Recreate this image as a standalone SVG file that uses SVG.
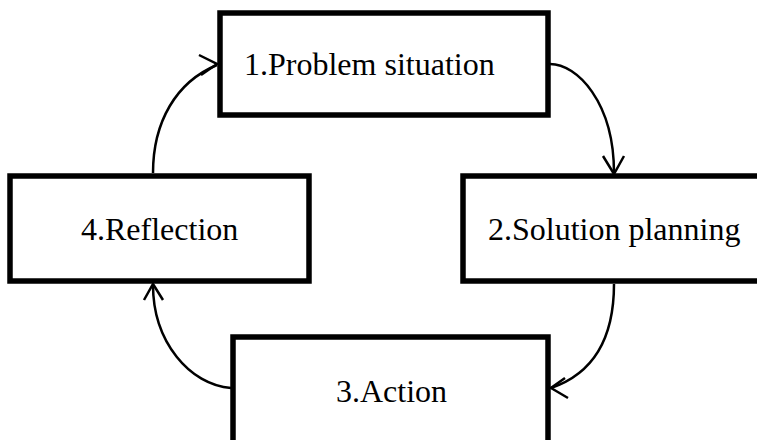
<svg xmlns="http://www.w3.org/2000/svg" width="757" height="440" viewBox="0 0 757 440">
  <style>
    .box { fill: #ffffff; stroke: #000000; stroke-width: 5.5; }
    .lbl { font-family: "Liberation Serif", "Times New Roman", serif; font-size: 32px; fill: #000000; }
    .conn { fill: none; stroke: #000000; stroke-width: 2.5; }
    .head { fill: none; stroke: #000000; stroke-width: 2.5; stroke-linecap: butt; }
  </style>
  <rect x="0" y="0" width="757" height="440" fill="#ffffff"/>
  <g id="node-1">
    <rect class="box" x="220" y="13" width="328" height="102"/>
    <text class="lbl" x="244" y="75">1.Problem situation</text>
  </g>
  <g id="node-2">
    <rect class="box" x="463" y="176" width="310" height="105"/>
    <text class="lbl" x="488" y="240">2.Solution planning</text>
  </g>
  <g id="node-3">
    <rect class="box" x="233" y="337" width="315" height="120"/>
    <text class="lbl" x="336" y="402">3.Action</text>
  </g>
  <g id="node-4">
    <rect class="box" x="10" y="176" width="299" height="105"/>
    <text class="lbl" x="81" y="240">4.Reflection</text>
  </g>
  <g id="connectors">
    <path class="conn" d="M153,173 C153,122 176,82 217,65"/>
    <path class="head" d="M199,55 L217,64 L201,75"/>
    <path class="conn" d="M550,64 C577,64 614,102 614,173"/>
    <path class="head" d="M603,156 L614,174 L624,156"/>
    <path class="conn" d="M614,284 C614,340 592,374 551,388"/>
    <path class="head" d="M565,378 L551,388 L568,398"/>
    <path class="conn" d="M231,388 C190,385 153,342 153,285"/>
    <path class="head" d="M144,300 L153,284 L163,300"/>
  </g>
</svg>
